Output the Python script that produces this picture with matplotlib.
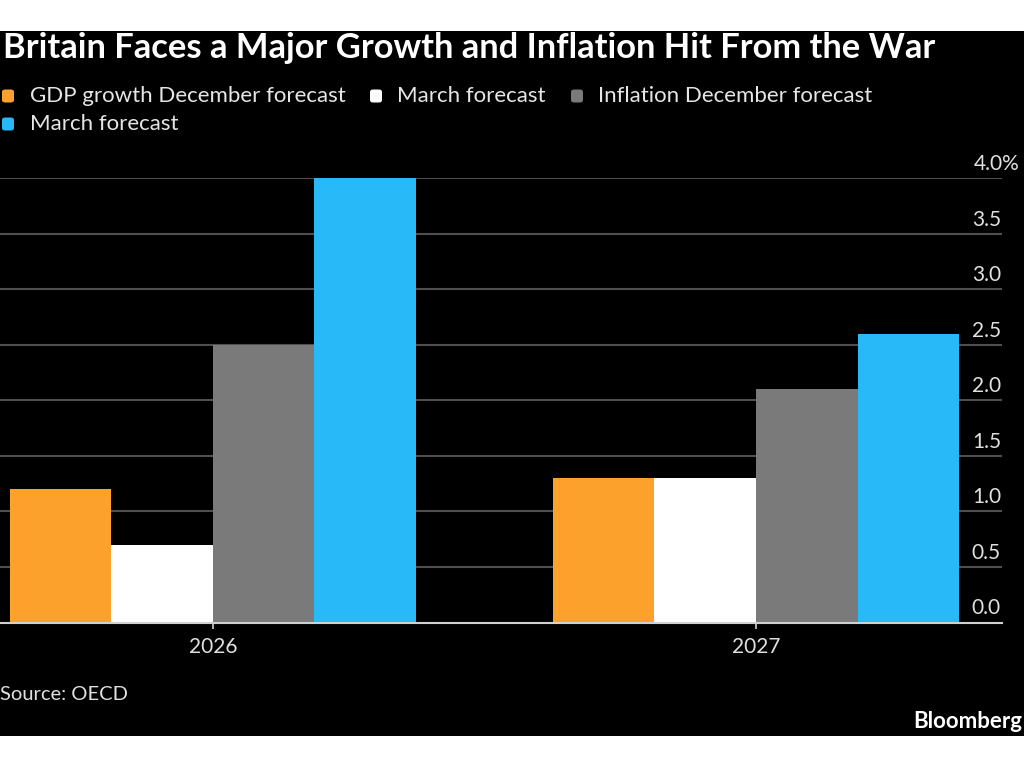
import matplotlib
matplotlib.use("Agg")
import matplotlib.pyplot as plt
from matplotlib import font_manager
from matplotlib.patches import Rectangle, FancyBboxPatch
import matplotlib.transforms as mtransforms
import numpy as np

# data (OECD forecasts, %)
years = ["2026", "2027"]
series = ["GDP growth December forecast", "March forecast",
          "Inflation December forecast", "March forecast"]
gdp_dec = [1.2, 1.3]
gdp_mar = [0.7, 1.3]
infl_dec = [2.5, 2.1]
infl_mar = [4.0, 2.6]
yticks = [0.0, 0.5, 1.0, 1.5, 2.0, 2.5, 3.0, 3.5, 4.0]

colors = ["#FCA12C", "#FFFFFF", "#7A7A7A", "#27B9F8"]

# pick a narrow-ish font if there is one
available = set(f.name for f in font_manager.fontManager.ttflist)
fam = "DejaVu Sans"
for name in ["Liberation Sans Narrow", "Lato", "Open Sans"]:
    if name in available:
        fam = name
        break
plt.rcParams["font.family"] = [fam, "DejaVu Sans"]

W, H = 1024, 768
fig = plt.figure(figsize=(W / 100, H / 100), dpi=100, facecolor="white")


def fx(x):
    return x / W


def fy(y):
    return 1 - y / H


# black panel behind everything
fig.patches.append(Rectangle((0, fy(736)), 1, fy(31) - fy(736), transform=fig.transFigure,
                             facecolor="black", edgecolor="none", zorder=-10))

ax = fig.add_axes([0, fy(622.5), fx(1002), fy(178) - fy(622.5)])
ax.set_zorder(1)
ax.patch.set_alpha(0)

x = np.arange(len(years))
w = 0.187
vals = [gdp_dec, gdp_mar, infl_dec, infl_mar]
for i, (v, c) in enumerate(zip(vals, colors)):
    ax.bar(x + (i - 1.5) * w, v, width=w, color=c, edgecolor="none", zorder=3)

ax.set_xlim(-0.392, 1.453)
ax.set_ylim(0, 4.0)
for s in ["top", "right", "left"]:
    ax.spines[s].set_visible(False)
ax.spines["bottom"].set_color("#d0d0d0")
ax.spines["bottom"].set_linewidth(1.5)
ax.spines["bottom"].set_zorder(4)
ax.set_yticks(yticks)
ax.yaxis.grid(True, color="#4f4f4f", linewidth=1.5, zorder=0)
ax.set_axisbelow(True)
ax.tick_params(axis="y", length=0, labelleft=False, labelright=False)
ax.set_xticks(x)
ax.set_xticklabels(years)
ax.tick_params(axis="x", colors="#d0d0d0", length=4.5, width=1.2, pad=6,
               labelsize=15, labelcolor="#e0e0e0")

# y labels sit above the gridlines, right aligned
trans = mtransforms.blended_transform_factory(ax.transAxes, ax.transData)
up = mtransforms.offset_copy(trans, fig=fig, x=-1, y=8, units="dots")
for t in yticks[:-1]:
    ax.text(1.0, t, f"{t:.1f}", transform=up, ha="right", va="baseline",
            fontsize=15, color="#e0e0e0", clip_on=False)
up2 = mtransforms.offset_copy(trans, fig=fig, x=18, y=8, units="dots")
ax.text(1.0, yticks[-1], f"{yticks[-1]:.1f}%", transform=up2, ha="right", va="baseline",
        fontsize=15, color="#e0e0e0", clip_on=False)

# title
fig.text(fx(3), fy(48), "Britain Faces a Major Growth and Inflation Hit From the War",
         fontsize=24.8, fontweight="bold", color="white", va="center", ha="left")

# legend
legend_pos = [(2, 30, 96), (370, 397, 96), (571, 598, 96), (2, 30, 124)]
for (sx, tx, cy), lab, c in zip(legend_pos, series, colors):
    fig.patches.append(FancyBboxPatch((fx(sx), fy(cy + 6.5)), fx(12), fy(0) - fy(13),
                                      boxstyle="round,pad=0,rounding_size=0.003",
                                      transform=fig.transFigure, facecolor=c,
                                      edgecolor="none", zorder=2))
    fig.text(fx(tx), fy(cy), lab, fontsize=16, color="#e6e6e6", va="center", ha="left")

fig.text(fx(0), fy(694), "Source: OECD", fontsize=14.5, color="#e0e0e0", va="center", ha="left")
fig.text(fx(1022), fy(721), "Bloomberg", fontsize=16, fontweight="bold", color="white",
         va="center", ha="right")

fig.savefig("out.png", dpi=100, facecolor="white")
